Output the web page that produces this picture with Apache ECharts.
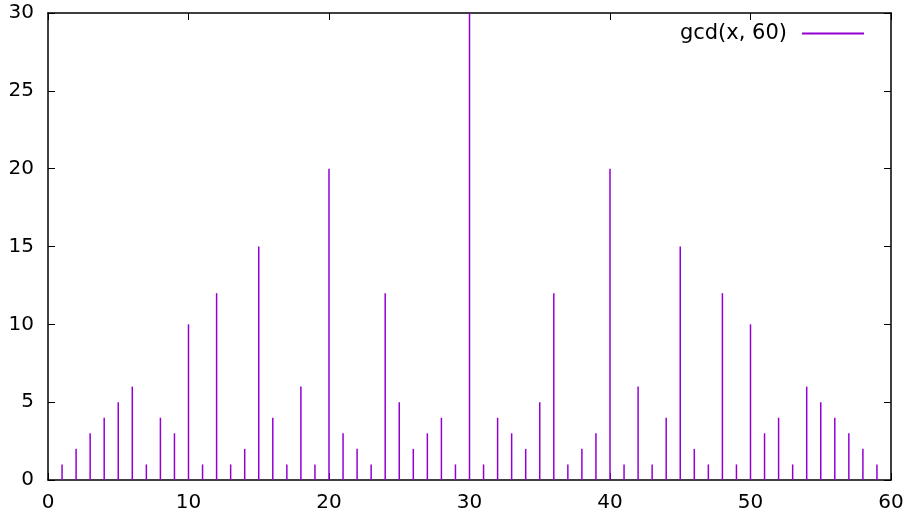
<!DOCTYPE html>
<html><head><meta charset="utf-8">
<script src="https://cdn.jsdelivr.net/npm/echarts@6/dist/echarts.min.js"></script>
<style>html,body{margin:0;padding:0;background:#fff}#c{width:910px;height:513px}</style>
</head><body><div id="c"></div>
<script>
var seriesName = 'gcd(x, 60)';
var xs = [1,2,3,4,5,6,7,8,9,10,11,12,13,14,15,16,17,18,19,20,21,22,23,24,25,26,27,28,29,30,31,32,33,34,35,36,37,38,39,40,41,42,43,44,45,46,47,48,49,50,51,52,53,54,55,56,57,58,59];
var ys = [1,2,3,4,5,6,1,4,3,10,1,12,1,2,15,4,1,6,1,20,3,2,1,12,5,2,3,4,1,30,1,4,3,2,5,12,1,2,3,20,1,6,1,4,15,2,1,12,1,10,3,4,1,6,5,4,3,2,1];
var xTicks = [0,10,20,30,40,50,60];
var yTicks = [0,5,10,15,20,25,30];

var data = xs.map(function(x,i){return [x, ys[i]];});
var font = 'DejaVu Sans';
var fs = 20;
var chart = echarts.init(document.getElementById('c'), null, {renderer:'canvas'});
var axisLine = {show:true, onZero:false, lineStyle:{color:'#000', width:1.5}};
var tick = {show:true, inside:true, length:7, lineStyle:{color:'#000', width:1}};
chart.setOption({
  animation:false,
  backgroundColor:'#fff',
  grid:{left:48, right:19, top:13, bottom:33, containLabel:false},
  legend:{
    data:[seriesName], right:46, top:23, padding:0, align:'right', icon:'rect',
    itemWidth:62, itemHeight:2,
    textStyle:{fontFamily:font, fontSize:21, color:'#000', padding:[0,10,0,0]}
  },
  xAxis:[
    {type:'value', min:xTicks[0], max:xTicks[xTicks.length-1], interval:10, position:'bottom',
     axisLine:axisLine, axisTick:tick, splitLine:{show:false},
     axisLabel:{fontFamily:font, fontSize:fs, color:'#000', margin:13}},
    {type:'value', min:xTicks[0], max:xTicks[xTicks.length-1], interval:10, position:'top',
     axisLine:axisLine, axisTick:tick, splitLine:{show:false}, axisLabel:{show:false}}
  ],
  yAxis:[
    {type:'value', min:yTicks[0], max:yTicks[yTicks.length-1], interval:5, position:'left',
     axisLine:axisLine, axisTick:tick, splitLine:{show:false},
     axisLabel:{fontFamily:font, fontSize:fs, color:'#000', margin:14}},
    {type:'value', min:yTicks[0], max:yTicks[yTicks.length-1], interval:5, position:'right',
     axisLine:axisLine, axisTick:tick, splitLine:{show:false}, axisLabel:{show:false}}
  ],
  series:[{
    name:seriesName, type:'custom', xAxisIndex:0, yAxisIndex:0,
    itemStyle:{color:'#9400d3'},
    data:data,
    renderItem:function(params, api){
      var p0 = api.coord([api.value(0), 0]);
      var p1 = api.coord([api.value(0), api.value(1)]);
      return {type:'line', shape:{x1:p0[0], y1:p0[1], x2:p1[0], y2:p1[1]},
        style:{stroke:'#9400d3', lineWidth:1.5}};
    }
  }]
});
</script></body></html>
